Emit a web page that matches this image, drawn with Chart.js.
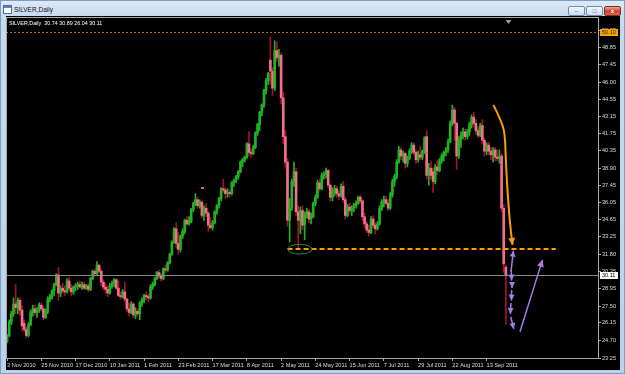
<!DOCTYPE html>
<html>
<head>
<meta charset="utf-8">
<script src="https://cdn.jsdelivr.net/npm/chart.js@4.4.1/dist/chart.umd.min.js"></script>
<style>
html, body { margin: 0; padding: 0; }
body { width: 625px; height: 374px; overflow: hidden; position: relative; background: #bfd3ea; font-family: 'Liberation Sans', Arial, sans-serif; }
#frame { position: absolute; left: 0; top: 0; width: 623px; height: 372px; border: 1px solid #7f9dc0; background: linear-gradient(#dde9f6, #c8daee 16px, #bcd1e9); }
#icon { position: absolute; left: 3px; top: 5px; width: 7px; height: 7px; border: 1px solid #4d6f9c; background: linear-gradient(#5a86c4 0 2px, #fff 2px); }
#caption { position: absolute; left: 14px; top: 6px; font-size: 6.5px; line-height: 8px; color: #111; }
.btn { position: absolute; top: 6px; width: 15px; height: 8px; border: 1px solid #6e8cb3; border-radius: 2px; background: linear-gradient(#f4f8fc, #cddcee); font-size: 6px; line-height: 8px; text-align: center; color: #2b3f5c; }
#bmin { left: 568px; }
#bmax { left: 586px; }
#bclose { left: 604px; width: 15px; border-color: #8a2a20; background: linear-gradient(#eaa291, #c84530 55%, #d9664d); color: #fff; font-weight: bold; }
#chartBox { position: absolute; left: 6px; top: 16px; width: 614px; height: 354px; background: #000; }
#info { position: absolute; left: 9px; top: 20px; font-size: 5.4px; line-height: 7px; color: #fff; white-space: pre; }
</style>
</head>
<body>
<div id="frame"></div>
<div id="icon"></div>
<div id="caption">SILVER,Daily</div>
<div class="btn" id="bmin">&#8211;</div>
<div class="btn" id="bmax">&#9633;</div>
<div class="btn" id="bclose">x</div>
<div id="chartBox"><canvas id="chart" width="614" height="354"></canvas></div>
<div id="info"></div>
<script>
// Daily SILVER candles, [open, high, low, close], one small array per month
const nov2010 = [
    [24.6,25.2,24.5,25.1],[25.1,26.4,25.0,26.2],[26.2,27.1,26.0,26.9],[26.9,28.2,26.7,27.7],
    [27.7,29.3,26.9,27.4],[27.4,28.2,26.9,28.0],[28.0,28.2,26.8,27.2],[27.2,27.6,25.5,25.9],
    [26.1,26.4,25.4,25.6],[25.6,25.8,24.9,25.1],[25.1,26.2,25.0,26.0],[26.0,27.2,25.9,27.0],
    [27.0,27.6,26.7,27.3],[27.3,27.6,26.8,27.0],[27.0,27.4,26.6,27.2],[27.2,27.8,27.0,27.6],
    [27.6,27.8,27.1,27.3],[27.3,27.5,26.4,26.6],[26.6,27.3,26.5,27.1],[27.1,28.3,26.9,28.1]
];
const dec2010 = [
    [28.1,28.5,27.9,28.3],[28.3,28.9,28.1,28.8],[28.8,29.4,28.4,29.3],[29.3,30.2,29.2,30.1],
    [30.1,30.7,28.0,28.6],[28.6,29.2,28.3,29.0],[29.0,29.4,28.6,28.8],[28.8,29.2,28.4,28.7],
    [28.7,29.8,28.6,29.6],[29.6,29.9,28.8,29.0],[29.0,29.3,28.4,28.7],[28.7,29.2,28.5,29.1],
    [29.1,29.4,28.8,29.2],[29.2,29.5,28.9,29.3],[29.3,29.6,29.0,29.1],[29.1,29.5,28.9,29.3],
    [29.3,29.5,28.9,29.0],[29.0,29.3,28.9,29.2],[29.2,29.4,28.7,28.9],[28.9,29.9,28.8,29.8],
    [29.8,30.5,29.7,30.4],[30.4,30.6,30.0,30.2],[30.2,31.2,30.1,30.9]
];
const jan2011 = [
    [30.9,31.0,30.3,30.4],[30.4,30.6,29.2,29.5],[29.5,29.7,28.9,29.1],[29.1,29.4,28.6,28.9],
    [28.9,29.2,28.3,28.6],[28.6,29.4,28.5,29.2],[29.2,29.6,29.0,29.4],[29.4,29.8,29.1,29.7],
    [29.7,29.8,28.9,29.0],[29.0,29.6,28.3,28.4],[28.4,28.7,28.1,28.3],[28.3,28.9,28.2,28.7],
    [28.7,29.5,27.9,28.1],[28.1,28.2,27.1,27.3],[27.3,27.8,26.7,27.0],[27.0,27.9,26.9,27.7],
    [27.7,27.8,26.6,26.8],[26.8,27.4,26.5,27.1],[27.1,27.3,26.7,26.9],[26.9,27.9,26.4,27.8],
    [27.8,28.2,27.5,28.0]
];
const feb2011 = [
    [28.0,28.5,27.8,28.4],[28.4,28.7,28.1,28.3],[28.3,28.5,27.9,28.2],[28.2,29.3,28.1,29.1],
    [29.1,29.5,28.9,29.3],[29.3,29.9,29.2,29.8],[29.8,30.4,29.7,30.3],[30.3,30.5,29.8,30.0],
    [30.0,30.2,29.6,29.8],[29.8,30.7,29.7,30.6],[30.6,30.9,30.3,30.5],[30.5,31.2,30.4,31.1],
    [31.1,31.9,31.0,31.8],[31.8,32.9,31.7,32.8],[32.8,34.0,32.7,33.9],[33.9,34.4,32.3,32.7],
    [32.7,33.6,31.8,32.2],[32.2,33.4,32.0,33.3],[33.3,33.9,33.1,33.7],[33.7,34.7,33.5,34.6]
];
const mar2011 = [
    [34.6,34.9,34.2,34.3],[34.3,34.9,34.2,34.5],[34.5,35.6,34.4,35.5],[35.5,36.1,35.3,36.0],
    [36.0,36.8,35.8,36.3],[36.3,36.5,35.6,35.8],[35.8,36.3,35.6,36.1],[36.1,36.2,34.8,35.0],
    [35.0,35.8,34.6,35.6],[35.6,36.0,34.9,35.2],[35.2,35.3,33.7,34.2],[34.2,34.8,33.9,34.0],
    [34.0,34.6,33.8,34.4],[34.4,35.4,34.3,35.3],[35.3,35.9,35.1,35.8],[35.8,36.5,35.6,36.4],
    [36.4,37.3,36.2,37.2],[37.2,38.0,36.9,37.1],[37.1,37.3,36.4,36.8],[36.8,37.2,36.5,36.9],
    [36.9,37.1,36.5,36.8],[36.8,37.8,36.7,37.7],[37.7,38.0,37.4,37.9]
];
const apr2011 = [
    [37.9,38.3,37.7,38.2],[38.2,38.7,38.0,38.6],[38.6,39.5,38.5,39.4],[39.4,39.7,39.0,39.6],
    [39.6,39.9,39.4,39.8],[39.8,41.0,39.7,40.9],[40.9,41.9,39.9,40.2],[40.2,40.5,39.8,40.1],
    [40.1,40.8,40.0,40.6],[40.6,41.9,40.5,41.8],[41.8,42.6,41.6,42.5],[42.5,43.6,42.0,43.5],
    [43.5,44.2,43.2,44.1],[44.1,45.4,43.9,45.3],[45.3,46.3,45.0,46.1],[46.1,46.8,45.8,46.7],
    [47.8,49.7,45.8,46.9],[46.9,47.2,44.9,45.5],[45.5,49.4,45.3,48.6],[48.6,49.3,47.7,48.0],
    [48.0,48.7,47.3,48.2]
];
const may2011 = [
    [48.2,48.4,44.2,44.7],[44.7,45.2,40.9,41.5],[41.5,42.0,38.9,39.4],[39.4,39.7,34.1,34.6],
    [34.6,36.4,32.8,35.6],[35.6,38.0,35.4,37.8],[37.8,39.4,37.4,38.6],[38.6,38.9,35.0,35.3],
    [35.3,35.8,32.3,34.6],[34.6,35.7,33.5,35.4],[35.4,35.8,33.8,34.2],[34.2,35.3,33.0,35.1],
    [35.1,35.6,34.8,35.3],[35.3,35.5,34.4,34.7],[34.7,35.2,34.3,34.9],[34.9,36.1,34.8,36.0],
    [36.0,36.7,35.8,36.5],[36.5,37.9,36.4,37.7],[37.7,38.0,37.0,37.2],[37.2,38.5,37.1,38.3],
    [38.3,38.6,38.0,38.4],[38.4,38.9,38.1,38.7]
];
const jun2011 = [
    [38.7,38.8,37.3,37.5],[37.5,37.6,36.2,36.5],[36.5,37.3,36.2,36.9],[36.9,37.5,36.6,37.2],
    [37.2,37.4,36.5,36.8],[36.8,37.0,36.3,36.6],[36.6,37.6,36.5,37.4],[37.4,37.8,36.1,36.3],
    [36.3,36.5,34.7,35.0],[35.0,35.9,34.9,35.7],[35.7,36.0,35.2,35.4],[35.4,35.8,35.0,35.6],
    [35.6,36.0,35.3,35.8],[35.8,36.2,35.6,36.0],[36.0,36.6,35.9,36.5],[36.5,36.7,36.0,36.2],
    [36.2,36.3,34.6,34.9],[34.9,35.2,34.0,34.3],[34.3,34.5,33.6,33.8],[33.8,34.2,33.3,33.6],
    [33.6,34.9,33.5,34.7],[34.7,35.0,34.0,34.2]
];
const jul2011 = [
    [34.2,34.4,33.5,33.9],[33.9,34.5,33.8,34.3],[34.3,35.8,34.2,35.6],[35.6,36.3,35.4,36.1],
    [36.1,36.6,35.7,36.3],[36.3,36.6,35.9,36.0],[36.0,36.3,35.4,35.6],[35.6,36.9,35.5,36.7],
    [36.7,38.0,36.5,37.8],[37.8,38.4,37.4,38.2],[38.2,39.6,38.0,39.4],[39.4,40.7,39.3,40.4],
    [40.4,40.6,39.6,39.9],[39.9,40.3,39.4,40.1],[40.1,40.2,38.9,39.3],[39.3,39.9,39.0,39.7],
    [39.7,40.5,39.6,40.3],[40.3,41.0,40.1,40.8],[40.8,41.0,40.0,40.2],[40.2,40.4,39.3,39.6],
    [39.6,40.3,39.4,40.0]
];
const aug2011 = [
    [40.0,40.7,39.6,39.8],[39.8,40.4,39.6,40.3],[40.3,41.5,40.1,41.4],[41.5,42.0,38.0,38.3],
    [38.3,39.3,37.5,38.9],[38.9,39.5,38.0,38.3],[38.6,38.9,36.9,37.8],[37.8,39.2,37.6,39.0],
    [39.0,39.6,38.4,38.7],[38.7,39.7,38.6,39.5],[39.5,40.1,39.3,39.9],[39.9,40.3,39.5,40.2],
    [40.2,40.6,39.9,40.4],[40.4,41.3,40.2,41.1],[41.1,42.8,41.0,42.6],[42.6,44.1,42.4,43.7],
    [43.7,43.9,41.2,42.6],[42.6,42.7,38.8,39.9],[39.9,41.5,39.7,41.2],[41.2,41.9,40.6,41.6],
    [41.6,42.2,41.3,41.9],[41.9,42.1,41.2,41.5],[41.5,42.1,41.3,41.9]
];
const sep2011 = [
    [41.9,42.7,41.6,42.5],[42.5,43.3,42.2,43.1],[43.1,43.5,42.3,42.6],[42.6,42.9,41.7,42.0],
    [42.0,42.3,41.4,41.6],[41.6,42.6,41.5,42.4],[42.4,42.9,40.9,41.2],[41.2,41.4,39.9,40.3],
    [40.3,41.0,40.0,40.8],[40.8,41.0,40.0,40.3],[40.3,40.6,39.6,40.0],[40.0,40.6,39.4,40.4],
    [40.4,40.6,39.5,39.8],[39.8,40.4,39.5,39.7],[39.7,40.4,39.3,39.9],[39.9,40.1,35.3,35.6],
    [35.6,35.9,30.3,31.0],[30.74,30.89,26.04,30.11]
];

// axis labels
const dateLabels = ['3 Nov 2010', '25 Nov 2010', '17 Dec 2010', '10 Jan 2011', '1 Feb 2011',
    '23 Feb 2011', '17 Mar 2011', '8 Apr 2011', '2 May 2011', '24 May 2011', '15 Jun 2011',
    '7 Jul 2011', '29 Jul 2011', '22 Aug 2011', '13 Sep 2011'];
const barsPerLabel = 16;
const priceTicks = [23.25, 24.70, 26.15, 27.50, 28.95, 30.35, 31.80, 33.25, 34.65, 36.05,
    37.45, 38.90, 40.35, 41.75, 43.15, 44.55, 46.00, 47.45, 48.85, 50.25];

// drawn objects, points as [bar index, price]
const topLevel = 50.10;
const supportLevel = 32.24;
const supportSpan = [131, 256.3];
const ellipseBox = [[131.1, 32.62], [142.5, 31.82]];
const smallMark = [91.2, 37.28];
const orangeArrow = [[227.2, 44.12], [231.4, 42.61], [232.6, 41.51], [232.9, 39.86], [233.7, 37.11], [234.9, 34.36], [236.1, 32.57]];
const purpleUp = [[235.4, 30.37], [236.5, 32.10]];
const purpleDown = [
    [[235.5, 30.51], [235.7, 29.63]],
    [[235.9, 29.50], [235.9, 29.03]],
    [[235.7, 28.86], [235.6, 27.98]],
    [[235.4, 27.79], [235.1, 26.88]],
    [[235.3, 26.63], [236.7, 25.64]]
];
const purpleLong = [[239.6, 25.42], [250.1, 31.34]];

const bars = [].concat(nov2010, dec2010, jan2011, feb2011, mar2011, apr2011, may2011, jun2011, jul2011, aug2011, sep2011);
const lastBar = bars[bars.length - 1];
const emptySlots = 43;
const slots = Array.from({ length: bars.length + emptySlots }, (_, i) => i);

const bullColor = '#22b322';
const bearBody = '#f0708c';
const bearWick = '#a3122f';
const isBull = b => b[3] >= b[0];

document.getElementById('info').textContent =
    'SILVER,Daily  ' + lastBar.map(v => v.toFixed(2)).join(' ');

function drawArrow(ctx, pts, color, lw, head) {
    ctx.setLineDash([]);
    ctx.strokeStyle = color;
    ctx.fillStyle = color;
    ctx.lineWidth = lw;
    ctx.lineJoin = 'round';
    ctx.beginPath();
    ctx.moveTo(pts[0][0], pts[0][1]);
    if (pts.length > 2) {
        for (let k = 1; k < pts.length - 1; k++) {
            const mx = (pts[k][0] + pts[k + 1][0]) / 2, my = (pts[k][1] + pts[k + 1][1]) / 2;
            ctx.quadraticCurveTo(pts[k][0], pts[k][1], mx, my);
        }
    }
    ctx.lineTo(pts[pts.length - 1][0], pts[pts.length - 1][1]);
    ctx.stroke();
    const [x1, y1] = pts[pts.length - 2];
    const [x2, y2] = pts[pts.length - 1];
    const ang = Math.atan2(y2 - y1, x2 - x1);
    const c = Math.cos(ang), s = Math.sin(ang), w = head * 0.5;
    ctx.beginPath();
    ctx.moveTo(x2, y2);
    ctx.lineTo(x2 - head * c + w * s, y2 - head * s - w * c);
    ctx.lineTo(x2 - head * c - w * s, y2 - head * s + w * c);
    ctx.closePath();
    ctx.fill();
}

const mtObjects = {
    id: 'mtObjects',
    afterDatasetsDraw(chart) {
        const { ctx, chartArea: a, scales: { x, y } } = chart;
        const px = i => x.getPixelForValue(i);
        const py = v => y.getPixelForValue(v);
        const pt = p => [px(p[0]), py(p[1])];
        ctx.save();
        ctx.beginPath();
        ctx.rect(a.left, a.top, a.right - a.left, a.bottom - a.top);
        ctx.clip();

        // bid line
        ctx.strokeStyle = '#8a8a8a';
        ctx.lineWidth = 1;
        let yy = Math.round(py(lastBar[3])) + 0.5;
        ctx.beginPath(); ctx.moveTo(a.left, yy); ctx.lineTo(a.right, yy); ctx.stroke();

        // dotted level on top
        ctx.strokeStyle = '#b8700f';
        ctx.setLineDash([2, 2]);
        yy = Math.round(py(topLevel)) + 0.5;
        ctx.beginPath(); ctx.moveTo(a.left, yy); ctx.lineTo(a.right, yy); ctx.stroke();

        // support dashed line
        ctx.strokeStyle = '#ff9c00';
        ctx.lineWidth = 2;
        ctx.setLineDash([5, 3]);
        yy = Math.round(py(supportLevel));
        ctx.beginPath(); ctx.moveTo(px(supportSpan[0]), yy); ctx.lineTo(px(supportSpan[1]), yy); ctx.stroke();
        ctx.setLineDash([]);

        // ellipse
        const [e1, e2] = ellipseBox.map(pt);
        ctx.strokeStyle = '#1d8f2a';
        ctx.lineWidth = 1;
        ctx.beginPath();
        ctx.ellipse((e1[0] + e2[0]) / 2, (e1[1] + e2[1]) / 2, (e2[0] - e1[0]) / 2, (e2[1] - e1[1]) / 2, 0, 0, Math.PI * 2);
        ctx.stroke();

        // small mark
        const m = pt(smallMark);
        ctx.fillStyle = '#e07800';
        ctx.fillRect(Math.round(m[0]) - 1, Math.round(m[1]) - 1, 3, 2);

        // arrows
        drawArrow(ctx, orangeArrow.map(pt), '#f5a000', 2, 7);
        const purple = '#a47ee6';
        drawArrow(ctx, purpleUp.map(pt), purple, 1.5, 6);
        purpleDown.forEach(seg => drawArrow(ctx, seg.map(pt), purple, 1.5, 6));
        drawArrow(ctx, purpleLong.map(pt), purple, 1.5, 7);
        ctx.restore();
    },
    afterDraw(chart) {
        const { ctx, chartArea: a, scales: { x, y } } = chart;
        ctx.save();
        ctx.strokeStyle = '#a8a8a8';
        ctx.lineWidth = 1;
        ctx.strokeRect(a.left + 0.5, a.top + 0.5, a.right - a.left - 1, a.bottom - a.top);

        // price boxes on the scale
        const box = (v, bg, fg) => {
            const yy = Math.round(y.getPixelForValue(v));
            ctx.fillStyle = bg;
            ctx.fillRect(a.right + 1, yy - 3, 18, 7);
            ctx.fillStyle = fg;
            ctx.font = '5.5px "Liberation Sans"';
            ctx.textBaseline = 'middle';
            ctx.textAlign = 'left';
            ctx.fillText(v.toFixed(2), a.right + 3, yy + 0.5);
        };
        box(topLevel, '#f2a400', '#3a2000');
        box(lastBar[3], '#ffffff', '#000000');

        // chart shift marker
        const sx = Math.round(x.getPixelForValue(bars.length)) + 0.5;
        ctx.fillStyle = '#9a9a9a';
        ctx.beginPath();
        ctx.moveTo(sx - 3, a.top + 3); ctx.lineTo(sx + 3, a.top + 3); ctx.lineTo(sx, a.top + 7);
        ctx.closePath(); ctx.fill();
        ctx.restore();
    }
};

const axisFont = { family: 'Liberation Sans', size: 5.6 };

new Chart(document.getElementById('chart'), {
    type: 'bar',
    data: {
        labels: slots,
        datasets: [
            {
                label: 'bodies',
                data: bars.map(b => [b[0], b[3]]),
                backgroundColor: bars.map(b => isBull(b) ? bullColor : bearBody),
                barThickness: 2,
                minBarLength: 1,
                grouped: false,
                order: 1
            },
            {
                label: 'wicks',
                data: bars.map(b => [b[2], b[1]]),
                backgroundColor: bars.map(b => isBull(b) ? bullColor : bearWick),
                barThickness: 1,
                grouped: false,
                order: 2
            }
        ]
    },
    options: {
        responsive: false,
        animation: false,
        devicePixelRatio: 1,
        layout: { padding: { top: 1, left: 0, right: 0, bottom: 0 } },
        plugins: { legend: { display: false }, tooltip: { enabled: false } },
        scales: {
            x: {
                type: 'category',
                offset: true,
                afterBuildTicks: s => {
                    s.ticks = s.ticks.filter(t => t.value % barsPerLabel === 0 && t.value < bars.length);
                },
                afterFit: s => {
                    s.height = 12;
                    s.paddingLeft = 0; s.paddingRight = 0;
                },
                ticks: {
                    autoSkip: false,
                    maxRotation: 0,
                    align: 'start',
                    padding: 1,
                    color: '#dcdcdc',
                    font: axisFont,
                    callback: v => dateLabels[v / barsPerLabel]
                },
                grid: { drawOnChartArea: false, offset: false, tickLength: 3, color: '#a8a8a8' },
                border: { display: false }
            },
            y: {
                type: 'linear',
                position: 'right',
                min: 23.25,
                max: 51.36,
                afterBuildTicks: s => { s.ticks = priceTicks.map(v => ({ value: v })); },
                afterFit: s => {
                    s.width = 21;
                    s.paddingTop = 0; s.paddingBottom = 0;
                },
                ticks: {
                    padding: 1,
                    color: '#dcdcdc',
                    font: axisFont,
                    callback: v => v.toFixed(2)
                },
                grid: { drawOnChartArea: false, tickLength: 2, color: '#a8a8a8' },
                border: { display: false }
            }
        }
    },
    plugins: [mtObjects]
});
</script>
</body>
</html>
